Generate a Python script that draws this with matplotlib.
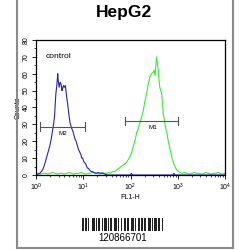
import numpy as np
import matplotlib
matplotlib.use("Agg")
import matplotlib.pyplot as plt
from matplotlib.lines import Line2D

plt.rcParams['font.family'] = ['Liberation Sans', 'DejaVu Sans']

title = "HepG2"
sample_id = "120866701"

# control histogram (blue): log10(FL1-H), counts
ctrl_log = [0.00, 0.04, 0.08, 0.11, 0.14, 0.18, 0.22, 0.25, 0.29, 0.32, 0.36, 0.39,
            0.42, 0.44, 0.46, 0.47, 0.49, 0.51, 0.53, 0.55, 0.56, 0.58, 0.60, 0.62,
            0.63, 0.65, 0.67, 0.70, 0.72, 0.75, 0.78, 0.80, 0.83, 0.85, 0.88, 0.90,
            0.92, 0.95, 0.97, 0.99, 1.01, 1.04, 1.06, 1.09, 1.11, 1.13, 1.17, 1.20,
            1.23, 1.27, 1.32, 1.36, 1.41, 1.46, 1.52, 1.60, 2.00, 2.02, 2.04, 2.90,
            2.92, 2.94, 4.00]
ctrl_cnt = [0, 0.5, 1, 2, 3, 6, 10, 13, 17, 21, 28, 34,
            48, 53, 60, 56, 52, 55, 54, 50, 51, 53, 52, 53,
            51, 46, 42, 35, 31, 28, 26, 24, 21, 20, 17, 15,
            14, 12, 10, 10, 8, 7, 6, 4, 4, 3, 2, 2,
            1.5, 1, 1.5, 1, 1, 0.5, 0, 0, 0, 1, 0, 0,
            1, 0, 0]

# antibody histogram (green)
ab_log = [0.00, 0.05, 0.10, 0.15, 0.20, 0.25, 0.30, 0.35, 0.40, 0.45, 0.50, 0.55,
          0.60, 0.65, 0.70, 0.75, 0.80, 0.85, 0.90, 0.95, 1.00, 1.05, 1.10, 1.15,
          1.20, 1.25, 1.30, 1.35, 1.40, 1.45, 1.50, 1.55, 1.57, 1.62, 1.67, 1.71,
          1.76, 1.80, 1.85, 1.90, 1.95, 1.99, 2.02, 2.06, 2.10, 2.13, 2.17, 2.20,
          2.24, 2.27, 2.30, 2.34, 2.37, 2.41, 2.44, 2.48, 2.50, 2.52, 2.54, 2.55,
          2.57, 2.59, 2.60, 2.62, 2.64, 2.66, 2.68, 2.69, 2.72, 2.75, 2.77, 2.80,
          2.84, 2.87, 2.91, 2.94, 2.98, 3.02, 3.08, 3.15, 3.20, 3.25, 3.30, 3.35,
          3.40, 3.45, 3.50, 3.55, 3.60, 3.65, 3.70, 3.75, 3.80, 3.85, 3.90, 3.95, 4.00]
ab_cnt = [0, 1, 0.5, 1, 1, 0.5, 1, 1.5, 1, 0.5, 1, 1,
          0.5, 1, 1.5, 1, 0.5, 1, 1, 1.5, 1, 0.5, 1, 1,
          1.5, 1, 1, 0.5, 1.5, 1, 1, 1.5, 1, 2, 2, 3,
          4, 5, 6, 7, 9, 11, 13, 17, 21, 25, 28, 31,
          35, 38, 43, 48, 53, 58, 60, 61, 62, 59, 66, 70,
          66, 62, 57, 52, 50, 48, 42, 37, 32, 27, 25, 20,
          15, 11, 7, 5, 3, 2, 1, 1.5, 1, 0.5, 1, 1.5,
          1, 1, 0.5, 1, 1.5, 1, 0.5, 1, 1, 1.5, 1, 0.5, 1]

# gates: name, log start, log end, level, label position
gate_names = ["M2", "M1"]
gate_lo = [0.08, 1.88]
gate_hi = [1.04, 3.00]
gate_y = [28.7, 32.0]
gate_label_log = [0.57, 2.48]

# barcode modules
barcode = "1101101001110101100101101011001110100101101100111010010110110011101011011001"

fig = plt.figure(figsize=(2.5, 2.5), dpi=100)
ax = fig.add_axes([0.144, 0.30, 0.756, 0.54])

ax.plot(10 ** np.array(ab_log), ab_cnt, color="#33ee33", lw=0.8)
ax.plot(10 ** np.array(ctrl_log), ctrl_cnt, color="#2222bb", lw=0.8)

for name, lo, hi, yv, lx in zip(gate_names, gate_lo, gate_hi, gate_y, gate_label_log):
    ax.plot([10 ** lo, 10 ** hi], [yv, yv], color="#555555", lw=0.8)
    ax.plot([10 ** lo, 10 ** lo], [yv - 2.5, yv + 2.5], color="#555555", lw=0.8)
    ax.plot([10 ** hi, 10 ** hi], [yv - 2.5, yv + 2.5], color="#555555", lw=0.8)
    ax.text(10 ** lx, yv - 2.5, name, fontsize=4.5, ha="center", va="top")

ax.text(10 ** 0.2, 70, "control", fontsize=6, ha="left", va="center")

ax.set_xscale("log")
ax.set_xlim(1, 1e4)
ax.set_ylim(0, 80)
ax.set_yticks(range(0, 81, 10))
ax.set_yticks(range(0, 81, 5), minor=True)
ax.tick_params(axis="both", labelsize=5, length=3, width=0.6, pad=1.5)
ax.tick_params(which="minor", length=1.5, width=0.5)
for lab in ax.get_yticklabels():
    lab.set_rotation(90)
    lab.set_va("center")
ax.set_ylabel("Counts", fontsize=5, labelpad=1)
ax.set_xlabel("FL1-H", fontsize=5, labelpad=1)
for sp in ax.spines.values():
    sp.set_linewidth(0.9)

fig.text(0.495, 0.952, title, fontsize=12.5, fontweight="bold", ha="center", va="center")

# barcode
bx = fig.add_axes([82 / 250, 19 / 250, 81 / 250, 13 / 250])
mods = np.array([int(c) for c in barcode])
bx.bar(np.arange(len(mods))[mods == 1], 1, width=1.0, align="edge", color="#222222")
bx.set_xlim(0, len(mods))
bx.set_ylim(0, 1)
bx.axis("off")
fig.text(0.49, 0.048, sample_id, fontsize=7, ha="center", va="center")

# outer frame
fc = "#8a8a8a"
fig.add_artist(Line2D([0.066, 0.066], [0.008, 1.0], color=fc, lw=1.5, transform=fig.transFigure))
fig.add_artist(Line2D([0.932, 0.932], [0.008, 1.0], color=fc, lw=1.5, transform=fig.transFigure))
fig.add_artist(Line2D([0.066, 0.932], [0.008, 0.008], color=fc, lw=1.5, transform=fig.transFigure))

fig.savefig("out.png", dpi=100)
